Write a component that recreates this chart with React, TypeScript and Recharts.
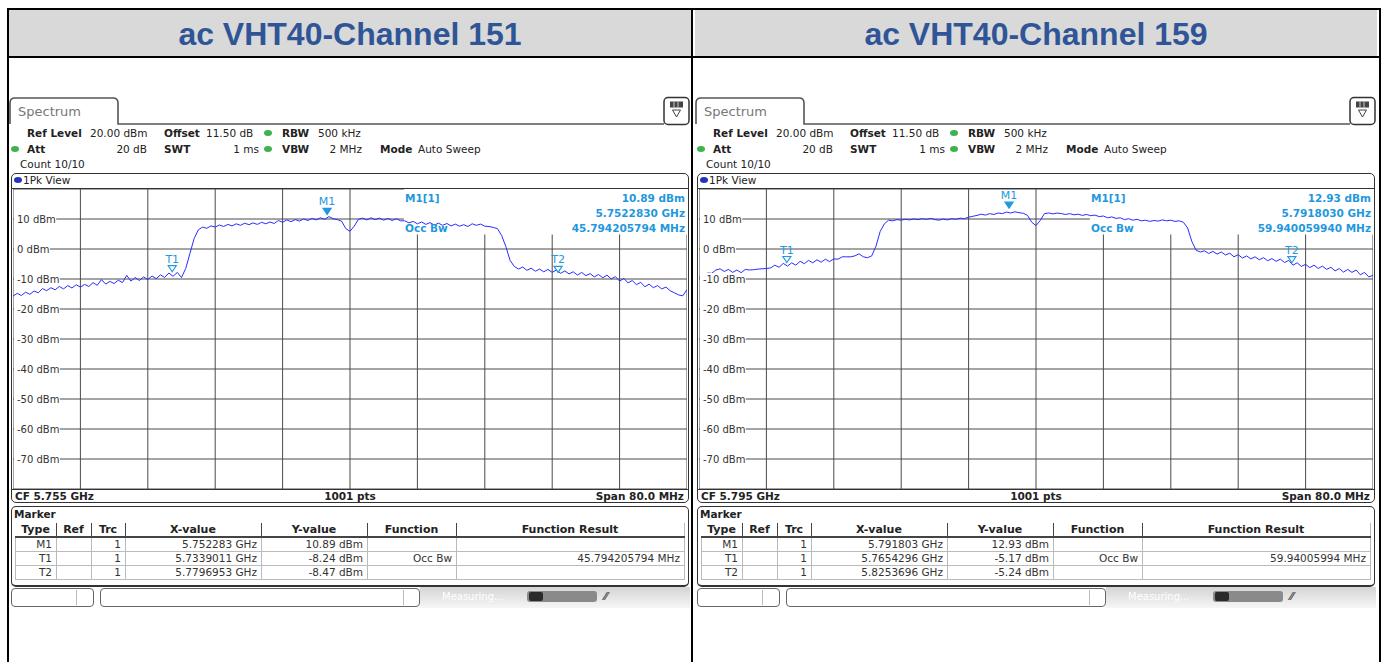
import React from 'react'
import { LineChart, Line, XAxis, YAxis, CartesianGrid, ReferenceArea, ReferenceDot } from 'recharts'

// sweep: 80 MHz span, trace read every 0.5 MHz
const SPAN_MHZ = 80
const STEP_MHZ = 0.5
const X_TICKS = [0, 8, 16, 24, 32, 40, 48, 56, 64, 72, 80]
const Y_TICKS = [20, 10, 0, -10, -20, -30, -40, -50, -60, -70, -80]

const TITLES = ['ac VHT40-Channel 151', 'ac VHT40-Channel 159']
const CF_GHZ = [5.755, 5.795]

const CH151_LEVELS = [
  -15.7, -14.8, -15.5, -14.4, -15.1, -14.0, -14.6, -13.2, -13.9, -12.9,
  -13.6, -12.5, -13.3, -12.2, -13.0, -11.9, -12.7, -11.8, -12.5, -11.2,
  -12.1, -10.2, -11.7, -10.8, -11.5, -10.4, -11.2, -8.8, -10.7, -9.5,
  -10.5, -9.3, -10.2, -9.0, -9.9, -8.6, -9.5, -8.0, -9.1, -7.8,
  -9.5, -6.5, -1.5, 3.5, 6.4, 7.3, 6.9, 7.7, 7.3, 8.0,
  7.5, 8.2, 7.7, 8.4, 7.9, 8.6, 8.1, 8.7, 8.2, 8.9,
  8.4, 9.0, 8.5, 9.5, 8.9, 9.7, 9.1, 9.8, 9.3, 10.0,
  9.5, 10.2, 9.7, 10.4, 9.9, 10.8, 10.1, 9.8, 9.3, 6.8,
  5.9, 7.6, 9.9, 10.3, 9.7, 10.4, 9.8, 10.3, 9.6, 10.2,
  9.5, 10.1, 9.4, 9.4, 8.7, 9.2, 8.4, 9.0, 8.2, 8.8,
  8.0, 8.6, 7.9, 8.5, 7.7, 8.3, 7.6, 8.1, 7.5, 8.4,
  7.9, 8.3, 7.6, 7.5, 7.2, 6.8, 4.5, 0.8, -3.8, -5.8,
  -6.7, -6.0, -7.1, -6.4, -7.4, -6.7, -7.6, -6.8, -7.8, -7.0,
  -8.1, -7.3, -8.3, -7.6, -8.7, -7.8, -8.9, -8.2, -9.3, -8.5,
  -9.6, -8.7, -10.0, -9.2, -10.7, -9.8, -11.3, -10.5, -11.9, -11.1,
  -12.6, -11.7, -12.9, -12.2, -13.3, -12.7, -13.9, -14.6, -15.3, -15.6,
  -13.5,
]

const CH159_LEVELS = [
  -9.3, -9.6, -8.0, -8.1, -7.0, -6.6, -7.5, -6.8, -7.8, -7.0,
  -7.9, -6.8, -7.0, -6.9, -6.7, -6.6, -6.5, -6.3, -5.4, -6.1,
  -4.8, -5.7, -4.6, -5.4, -4.1, -4.9, -3.8, -4.6, -3.6, -4.4,
  -3.4, -4.2, -3.3, -3.4, -2.6, -2.6, -2.6, -2.3, -1.6, -2.6,
  -2.9, -2.3, 0.9, 5.8, 8.4, 9.6, 9.4, 9.8, 9.6, 9.9,
  9.7, 10.0, 9.8, 10.1, 9.9, 10.2, 9.8, 9.6, 10.0, 9.7,
  10.1, 9.9, 10.3, 10.1, 10.6, 10.9, 11.2, 11.6, 11.3, 11.8,
  11.5, 12.0, 11.8, 12.3, 12.0, 12.4, 12.1, 11.9, 11.2, 8.9,
  7.8, 9.5, 11.8, 12.0, 11.7, 12.0, 11.8, 11.5, 11.8, 11.4,
  11.6, 11.2, 11.5, 11.1, 11.3, 10.8, 11.0, 10.4, 10.7, 10.2,
  10.4, 9.8, 10.1, 9.6, 9.9, 9.4, 9.6, 9.2, 9.5, 9.3,
  9.7, 9.4, 9.6, 9.2, 9.4, 8.9, 7.0, 2.5, -0.4, -1.0,
  -0.6, -1.5, -0.8, -1.7, -1.0, -2.0, -1.4, -2.6, -1.9, -3.0,
  -2.3, -3.3, -2.6, -3.6, -2.9, -3.9, -3.2, -4.1, -3.4, -4.5,
  -3.8, -5.4, -4.6, -5.8, -5.1, -6.2, -5.4, -6.5, -5.7, -6.8,
  -6.1, -7.3, -6.5, -7.7, -6.8, -7.8, -7.0, -8.6, -7.8, -9.3,
  -8.8,
]

const CH151_MARKERS = [
  { type: 'M1', x: '5.752283', y: '10.89', fn: '', result: '' },
  { type: 'T1', x: '5.7339011', y: '-8.24', fn: 'Occ Bw', result: '45.794205794 MHz' },
  { type: 'T2', x: '5.7796953', y: '-8.47', fn: '', result: '' },
]
const CH159_MARKERS = [
  { type: 'M1', x: '5.791803', y: '12.93', fn: '', result: '' },
  { type: 'T1', x: '5.7654296', y: '-5.17', fn: 'Occ Bw', result: '59.94005994 MHz' },
  { type: 'T2', x: '5.8253696', y: '-5.24', fn: '', result: '' },
]
const CH151_INFO = ['10.89 dBm', '5.7522830 GHz', '45.794205794 MHz']
const CH159_INFO = ['12.93 dBm', '5.7918030 GHz', '59.940059940 MHz']

const FONT = '"DejaVu Sans", Verdana, sans-serif'
const MK_BLUE = '#1f98de'
const TRACE_BLUE = '#2a2cff'
const GRID = '#4a4a4a'

function Txt({ x, y, children, bold, align = 'left', color = '#222', size = 10.5, w = 400 }: any) {
  let left = x
  if (align === 'right') left = x - w
  if (align === 'center') left = x - w / 2
  return (
    <div
      style={{
        position: 'absolute', left, top: y - 7, width: align === 'left' ? undefined : w,
        lineHeight: '14px', height: 14, fontSize: size, fontFamily: FONT, fontWeight: bold ? 'bold' : 'normal',
        color, textAlign: align, whiteSpace: 'nowrap',
      }}
    >
      {children}
    </div>
  )
}

function Dot({ x, y, color = '#3cb44b' }: any) {
  return (
    <div style={{ position: 'absolute', left: x - 4, top: y - 3, width: 8, height: 6, borderRadius: '50%', background: color }} />
  )
}

function DbmTick({ y, payload }: any) {
  const v = payload.value
  if (v === 20 || v === -80) return null
  const label = `${v} dBm`
  const w = 26.5 + String(Math.abs(v)).length * 6.36 + (v < 0 ? 3.6 : 0)
  return (
    <g>
      <rect x={1} y={y - 6} width={w + 3} height={12} fill="#fff" />
      <text x={4} y={y + 4} fontSize={10} fontFamily={FONT} fill="#333">{label}</text>
    </g>
  )
}

function MarkerShape({ cx, cy, name }: any) {
  const filled = name === 'M1'
  return (
    <g>
      <polygon
        points={`${cx - 4},${cy - 8} ${cx + 4},${cy - 8} ${cx},${cy - 2}`}
        fill={filled ? MK_BLUE : '#fff'}
        stroke={MK_BLUE}
        strokeWidth={1.2}
      />
      <text x={cx} y={cy - 11} textAnchor="middle" fontSize={11} fontFamily={FONT} fill={MK_BLUE}>{name}</text>
    </g>
  )
}

const COLS = [
  { x0: 15, x1: 56, label: 'Type' },
  { x0: 56, x1: 91, label: 'Ref' },
  { x0: 91, x1: 125, label: 'Trc' },
  { x0: 125, x1: 261, label: 'X-value' },
  { x0: 261, x1: 367, label: 'Y-value' },
  { x0: 367, x1: 456, label: 'Function' },
  { x0: 456, x1: 684, label: 'Function Result' },
]

function Panel({ ox, title, cf, levels, markers, info }: any) {
  const startMhz = cf * 1000 - SPAN_MHZ / 2
  const data = levels.map((v: number, i: number) => ({ f: i * STEP_MHZ, v }))
  const rows = markers.map((m: any) => [m.type, '', '1', `${m.x} GHz`, `${m.y} dBm`, m.fn, m.result])

  return (
    <div style={{ position: 'absolute', left: ox, top: 0, width: 700, height: 662 }}>
      {/* table header cell */}
      <div style={{ position: 'absolute', left: 9, top: 10, width: 682, height: 46, background: '#d9d9d9' }} />
      <div
        style={{
          position: 'absolute', left: 9, top: 10, width: 682, height: 46, lineHeight: '48px', textAlign: 'center',
          fontFamily: '"Liberation Sans", Arial, sans-serif', fontWeight: 'bold', fontSize: 32, color: '#2f5597',
        }}
      >
        {title}
      </div>

      {/* tab + settings icon */}
      <svg style={{ position: 'absolute', left: 0, top: 0 }} width={700} height={130}>
        <path d="M 10 124 L 10 103 Q 10 98 15 98 L 113 98 Q 118 98 118 103 L 118 124 L 664 124" fill="none" stroke="#555" strokeWidth={1.6} />
        <rect x={664} y={97.5} width={25} height={27} rx={4} fill="#fff" stroke="#333" strokeWidth={1.5} />
        <rect x={670} y={101.5} width={13} height={6} fill="#444" />
        <line x1={674} y1={101.5} x2={674} y2={107.5} stroke="#ccc" strokeWidth={1} />
        <line x1={678} y1={101.5} x2={678} y2={107.5} stroke="#ccc" strokeWidth={1} />
        <polygon points="672.5,110 680.5,110 676.5,117" fill="none" stroke="#444" strokeWidth={1} />
      </svg>
      <Txt x={18} y={112} size={13} color="#777">Spectrum</Txt>

      {/* settings lines */}
      <Txt x={27} y={133} bold>Ref Level</Txt>
      <Txt x={90} y={133}>20.00 dBm</Txt>
      <Txt x={164} y={133} bold>Offset</Txt>
      <Txt x={206} y={133}>11.50 dB</Txt>
      <Dot x={268} y={133} />
      <Txt x={282} y={133} bold>RBW</Txt>
      <Txt x={318} y={133}>500 kHz</Txt>

      <Dot x={15} y={149} />
      <Txt x={27} y={149} bold>Att</Txt>
      <Txt x={147} y={149} align="right" w={60}>20 dB</Txt>
      <Txt x={164} y={149} bold>SWT</Txt>
      <Txt x={259} y={149} align="right" w={60}>1 ms</Txt>
      <Dot x={268} y={149} />
      <Txt x={282} y={149} bold>VBW</Txt>
      <Txt x={362} y={149} align="right" w={60}>2 MHz</Txt>
      <Txt x={380} y={149} bold>Mode</Txt>
      <Txt x={418} y={149}>Auto Sweep</Txt>

      <Txt x={20} y={164}>Count 10/10</Txt>

      {/* 1Pk View window */}
      <div style={{ position: 'absolute', left: 11, top: 173, width: 678, height: 330, border: '1.5px solid #333', borderRadius: 5, boxSizing: 'border-box' }} />
      <Dot x={18} y={180} color="#2233bb" />
      <Txt x={23} y={180}>1Pk View</Txt>
      <div style={{ position: 'absolute', left: 12, top: 188, width: 676, height: 1, background: '#333' }} />
      <div style={{ position: 'absolute', left: 12, top: 489, width: 676, height: 1, background: '#333' }} />

      <div style={{ position: 'absolute', left: 13, top: 189 }}>
        <LineChart width={674} height={300} data={data} margin={{ top: 0, right: 0, bottom: 0, left: 0 }}>
          <CartesianGrid stroke={GRID} strokeWidth={1} />
          <XAxis type="number" dataKey="f" domain={[0, SPAN_MHZ]} ticks={X_TICKS} hide />
          <YAxis
            type="number"
            domain={[-80, 20]}
            ticks={Y_TICKS}
            mirror
            axisLine={false}
            tickLine={false}
            tick={<DbmTick />}
            interval={0}
          />
          <ReferenceArea x1={46.4} x2={SPAN_MHZ} y1={4.8} y2={20} fill="#fff" fillOpacity={1} stroke="none" ifOverflow="hidden" />
          <Line type="linear" dataKey="v" stroke={TRACE_BLUE} strokeWidth={1} dot={false} isAnimationActive={false} />
          {markers.map((m: any) => (
            <ReferenceDot
              key={m.type}
              x={Number(m.x) * 1000 - startMhz}
              y={Number(m.y)}
              r={0}
              ifOverflow="visible"
              shape={(p: any) => <MarkerShape {...p} name={m.type} />}
            />
          ))}
        </LineChart>
      </div>

      {/* marker readout */}
      <Txt x={405} y={198} bold color={MK_BLUE}>M1[1]</Txt>
      <Txt x={685} y={198} bold color={MK_BLUE} align="right">{info[0]}</Txt>
      <Txt x={685} y={213} bold color={MK_BLUE} align="right">{info[1]}</Txt>
      <Txt x={405} y={228} bold color={MK_BLUE}>Occ Bw</Txt>
      <Txt x={685} y={228} bold color={MK_BLUE} align="right">{info[2]}</Txt>

      <Txt x={15} y={496} bold>{`CF ${cf.toFixed(3)} GHz`}</Txt>
      <Txt x={350} y={496} bold align="center">1001 pts</Txt>
      <Txt x={684} y={496} bold align="right">{`Span ${SPAN_MHZ.toFixed(1)} MHz`}</Txt>

      {/* marker table */}
      <div style={{ position: 'absolute', left: 11, top: 506, width: 678, height: 81, border: '1.5px solid #333', borderBottomWidth: 2.5, borderRadius: 5, boxSizing: 'border-box' }} />
      <Txt x={14} y={514} bold>Marker</Txt>
      {COLS.map((c, i) => (
        <React.Fragment key={c.label}>
          <Txt x={(c.x0 + c.x1) / 2} y={530} bold align="center" w={c.x1 - c.x0} size={11}>{c.label}</Txt>
          {i > 0 && <div style={{ position: 'absolute', left: c.x0, top: 523, width: 1, height: 14, background: '#444' }} />}
          {i > 0 && <div style={{ position: 'absolute', left: c.x0, top: 538, width: 1, height: 42, background: '#bbb' }} />}
        </React.Fragment>
      ))}
      <div style={{ position: 'absolute', left: 684, top: 523, width: 1, height: 57, background: '#bbb' }} />
      <div style={{ position: 'absolute', left: 15, top: 538, width: 1, height: 42, background: '#bbb' }} />
      <div style={{ position: 'absolute', left: 15, top: 536, width: 670, height: 2, background: '#444' }} />
      {[551, 565, 579].map((yy) => (
        <div key={yy} style={{ position: 'absolute', left: 15, top: yy, width: 670, height: 1, background: '#bbb' }} />
      ))}
      {rows.map((r: string[], ri: number) =>
        r.map((cell, ci) => (
          <Txt key={`${ri}-${ci}`} x={COLS[ci].x1 - 4} y={544 + ri * 14} align="right" w={COLS[ci].x1 - COLS[ci].x0} color="#333">
            {cell}
          </Txt>
        )),
      )}

      {/* status bar */}
      <div style={{ position: 'absolute', left: 420, top: 587, width: 270, height: 21, background: 'linear-gradient(#d4d4d4, #f6f6f6)' }} />
      <div style={{ position: 'absolute', left: 11, top: 588, width: 83, height: 19, border: '1px solid #666', borderRadius: 4, boxSizing: 'border-box', background: '#fff' }} />
      <div style={{ position: 'absolute', left: 76, top: 590, width: 1, height: 15, background: '#bbb' }} />
      <div style={{ position: 'absolute', left: 100, top: 588, width: 320, height: 19, border: '1px solid #666', borderRadius: 4, boxSizing: 'border-box', background: '#fff' }} />
      <div style={{ position: 'absolute', left: 403, top: 590, width: 1, height: 15, background: '#bbb' }} />
      <Txt x={442} y={597} color="#fff" size={10}>Measuring...</Txt>
      <div style={{ position: 'absolute', left: 527, top: 591, width: 70, height: 11, borderRadius: 3, background: '#8a8a8a' }} />
      <div style={{ position: 'absolute', left: 529, top: 592, width: 14, height: 9, borderRadius: 2, background: '#2a2a2a' }} />
      <Txt x={604} y={597} bold color="#555" size={11}>⁄⁄</Txt>
    </div>
  )
}

export default function App() {
  return (
    <div style={{ position: 'absolute', left: 0, top: 0, width: 1387, height: 662, background: '#fff', overflow: 'hidden' }}>
      <Panel ox={0} title={TITLES[0]} cf={CF_GHZ[0]} levels={CH151_LEVELS} markers={CH151_MARKERS} info={CH151_INFO} />
      <Panel ox={686} title={TITLES[1]} cf={CF_GHZ[1]} levels={CH159_LEVELS} markers={CH159_MARKERS} info={CH159_INFO} />
      {/* table borders */}
      <div style={{ position: 'absolute', left: 7, top: 8, width: 1374, height: 2, background: '#000' }} />
      <div style={{ position: 'absolute', left: 7, top: 56, width: 1374, height: 2, background: '#000' }} />
      <div style={{ position: 'absolute', left: 7, top: 8, width: 2, height: 654, background: '#000' }} />
      <div style={{ position: 'absolute', left: 691, top: 8, width: 2, height: 654, background: '#000' }} />
      <div style={{ position: 'absolute', left: 1379, top: 8, width: 2, height: 654, background: '#000' }} />
    </div>
  )
}
